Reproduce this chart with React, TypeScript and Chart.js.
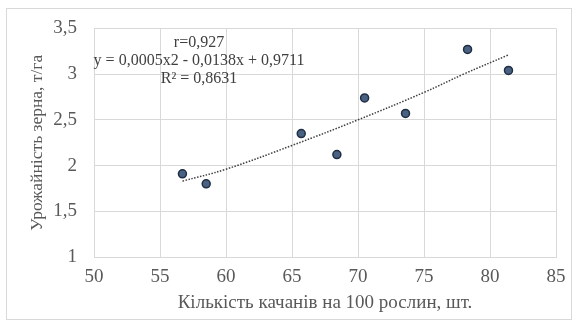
import React, { useEffect, useRef } from "react";
import { Chart, registerables } from "chart.js";

Chart.register(...registerables);

const plantsX = [56.7, 58.5, 65.7, 68.4, 70.5, 73.6, 78.3, 81.4];
const yieldY = [1.91, 1.8, 2.35, 2.12, 2.74, 2.57, 3.27, 3.04];
const trendX = [56.7, 60, 65, 70, 75, 78, 81.4];
const trendY = [1.83, 1.96, 2.22, 2.5, 2.8, 3.0, 3.21];
const annotationLines = ["r=0,927", "y = 0,0005x2 - 0,0138x + 0,9711", "R² = 0,8631"];
const xTitle = "Кількість качанів на 100 рослин, шт.";
const yTitle = "Урожайність зерна, т/га";

const FONT = "'Liberation Serif', 'Times New Roman', serif";

export default function App() {
  const ref = useRef<HTMLCanvasElement>(null);
  useEffect(() => {
    if (!ref.current) return;
    const annotate = {
      id: "annotate",
      afterDraw(chart: any) {
        const ctx = chart.ctx;
        ctx.save();
        ctx.fillStyle = "#404040";
        ctx.font = `16px ${FONT}`;
        ctx.textAlign = "center";
        ctx.textBaseline = "middle";
        const cx = 199;
        const ys = [43, 61, 79];
        annotationLines.forEach((t, i) => ctx.fillText(t, cx, ys[i]));
        ctx.strokeStyle = "#d9d9d9";
        ctx.lineWidth = 1;
        ctx.strokeRect(6.5, 8.5, 565, 311);
        ctx.restore();
      },
    };
    const chart = new Chart(ref.current, {
      type: "scatter",
      data: {
        datasets: [
          {
            label: "trend",
            data: trendX.map((x, i) => ({ x, y: trendY[i] })),
            showLine: true,
            borderColor: "#404040",
            borderWidth: 1.5,
            borderDash: [1.5, 1.5],
            pointRadius: 0,
            tension: 0.4,
            order: 2,
          },
          {
            label: "data",
            data: plantsX.map((x, i) => ({ x, y: yieldY[i] })),
            pointRadius: 4,
            pointBackgroundColor: "#4a6282",
            pointBorderColor: "#1f2e44",
            pointBorderWidth: 1.5,
            order: 1,
          },
        ],
      },
      options: {
        animation: false,
        responsive: false,
        layout: { padding: { top: 26, right: 20, left: 27, bottom: 0 } },
        plugins: { legend: { display: false }, tooltip: { enabled: false } },
        scales: {
          x: {
            type: "linear",
            min: 50,
            max: 85,
            ticks: {
              stepSize: 5,
              color: "#595959",
              font: { family: FONT, size: 19 },
              padding: 9,
            },
            grid: { color: "#d9d9d9", drawTicks: false },
            border: { color: "#d9d9d9" },
            title: {
              display: true,
              text: xTitle,
              color: "#595959",
              font: { family: FONT, size: 19 },
              padding: { top: 0, bottom: 8 },
            },
            afterFit(s: any) {
              s.height = 65;
            },
          },
          y: {
            min: 1,
            max: 3.5,
            ticks: {
              stepSize: 0.5,
              color: "#595959",
              font: { family: FONT, size: 19 },
              padding: 17,
              callback: (v: any) => String(v).replace(".", ","),
            },
            grid: { color: "#d9d9d9", drawTicks: false },
            border: { color: "#d9d9d9" },
            title: {
              display: true,
              text: yTitle,
              color: "#595959",
              font: { family: FONT, size: 17.5 },
              padding: 0,
            },
            afterFit(s: any) {
              s.width = 67;
            },
          },
        },
      },
      plugins: [annotate],
    });
    return () => chart.destroy();
  }, []);
  return (
    <div style={{ position: "fixed", left: 0, top: 0, width: 576, height: 322, background: "#fff" }}>
      <canvas ref={ref} width={576} height={322} style={{ width: 576, height: 322 }} />
    </div>
  );
}
